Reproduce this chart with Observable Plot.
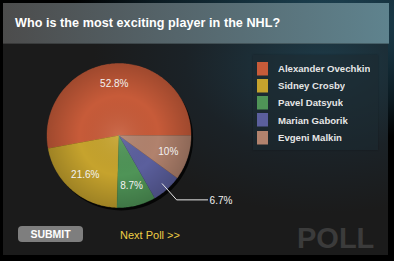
<!DOCTYPE html>
<html>
<head>
<meta charset="utf-8">
<script src="https://cdn.jsdelivr.net/npm/d3@7"></script>
<script src="https://cdn.jsdelivr.net/npm/@observablehq/plot@0.6"></script>
<style>
  html, body { margin: 0; padding: 0; background: #000; }
  #card {
    position: relative; width: 394px; height: 261px; overflow: hidden;
    background: radial-gradient(ellipse 260px 120px at 330px 20px, #1f4657 0%, #0b1a21 70%, #000 100%);
    font-family: "Liberation Sans", Arial, Helvetica, sans-serif;
  }
  #panel {
    position: absolute; left: 3px; top: 3px; width: 385px; height: 252px;
    background: radial-gradient(ellipse 230px 150px at 320px 60px, #1d3a47 0%, #1b2227 60%, #1b1b1b 100%);
  }
  #titlebar {
    position: absolute; left: 3px; top: 3px; width: 386px; height: 41px;
    background: linear-gradient(90deg, #4c4c4c 0%, #55656b 45%, #5f838e 100%);
    box-shadow: inset 0 -1px 0 rgba(0,0,0,0.25);
  }
  #title {
    position: absolute; left: 15px; top: 16px; margin: 0;
    color: #fff; font-weight: bold; font-size: 12.6px; letter-spacing: 0.05px;
  }
  #legendbox {
    position: absolute; left: 253px; top: 55px; width: 125px; height: 95px;
    background: rgba(28,42,48,0.6);
    box-shadow: 0 0 2px rgba(0,0,0,0.3);
  }
  #legend { position: absolute; left: 257px; top: 60px; }
  #legend, #legend * { font-family: "Liberation Sans", Arial, sans-serif !important; font-size: 9.6px !important; font-weight: bold !important; color: #e6e6e6 !important; }
  #legend > div { margin: 0 !important; }
  #legend .lg-swatch { display: flex; align-items: center; height: 17.2px; padding: 0 !important; margin: 0 !important; }
  #legend .lg-swatch > svg { margin-right: 10px !important; }
  #chart { position: absolute; left: 0; top: 0; }
  #submit {
    position: absolute; left: 18px; top: 226px; width: 65px; height: 16px; border-radius: 4px;
    background: #7e7e7e; color: #fff; font-weight: bold; font-size: 10.5px;
    text-align: center; line-height: 16px;
  }
  #next { position: absolute; left: 120px; top: 229px; color: #efce45; font-size: 11px; }
  #poll { position: absolute; left: 297px; top: 222px; color: #3b3b3b; font-weight: bold; font-size: 29px; }
  g[aria-label="shadow"] { filter: blur(3px); }
</style>
</head>
<body>
<div id="card">
  <div id="panel"></div>
  <div id="titlebar"></div>
  <div id="title">Who is the most exciting player in the NHL?</div>
  <div id="legendbox"></div>
  <div id="legend"></div>
  <div id="chart"></div>
  <div id="submit">SUBMIT</div>
  <div id="next">Next Poll &gt;&gt;</div>
  <div id="poll">POLL</div>
</div>
<script>
const players = ["Alexander Ovechkin", "Sidney Crosby", "Pavel Datsyuk", "Marian Gaborik", "Evgeni Malkin"];
const shares = [52.8, 21.6, 8.7, 6.7, 10];
const shareLabels = ["52.8%", "21.6%", "8.7%", "6.7%", "10%"];
const colors = ["#c75b39", "#c6a32d", "#4f9457", "#5b5f9d", "#b1826d"];
const outsideLabel = [false, false, false, true, false];

const total = d3.sum(shares);
let acc = 0;
const slices = players.map((name, i) => {
  const a0 = acc / total * 2 * Math.PI;
  acc += shares[i];
  const a1 = acc / total * 2 * Math.PI;
  return {name, a0, a1, mid: (a0 + a1) / 2, label: shareLabels[i], color: colors[i], outside: outsideLabel[i]};
});

function slicePoints(s) {
  const pts = [{x: 0, y: 0}];
  const n = Math.max(2, Math.ceil((s.a1 - s.a0) / (Math.PI / 180)));
  for (let k = 0; k <= n; k++) {
    const a = s.a0 + (s.a1 - s.a0) * k / n;
    pts.push({x: Math.cos(a), y: Math.sin(a)});
  }
  pts.push({x: 0, y: 0});
  return pts;
}

const inside = slices.filter(s => !s.outside).map(s => ({x: 0.72 * Math.cos(s.mid), y: 0.72 * Math.sin(s.mid), label: s.label}));
const leader = [];
const outside = [];
for (const s of slices.filter(s => s.outside)) {
  leader.push({x: 0.9 * Math.cos(s.mid), y: 0.9 * Math.sin(s.mid)});
  const ex = 1.2 * Math.cos(s.mid), ey = 1.2 * Math.sin(s.mid);
  leader.push({x: ex, y: ey});
  leader.push({x: ex + 0.43, y: ey});
  outside.push({x: ex + 0.43, y: ey, label: s.label});
}

const R = 72;
const cx = 118.5, cy = 135;

const defs = () => {
  const d = d3.create("svg:defs");
  const g = d.append("radialGradient").attr("id", "shade");
  g.append("stop").attr("offset", "0%").attr("stop-color", "#fff").attr("stop-opacity", 0.10);
  g.append("stop").attr("offset", "55%").attr("stop-color", "#000").attr("stop-opacity", 0.0);
  g.append("stop").attr("offset", "100%").attr("stop-color", "#000").attr("stop-opacity", 0.2);
  return d.node();
};

const chart = Plot.plot({
  width: 394, height: 261, margin: 0,
  style: {background: "transparent", overflow: "visible"},
  x: {domain: [-1, 1], range: [cx - R, cx + R], axis: null},
  y: {domain: [-1, 1], range: [cy + R, cy - R], axis: null},
  marks: [
    defs,
    Plot.dot([{x: 0.03, y: -0.04}], {x: "x", y: "y", r: R, fill: "#000", fillOpacity: 0.8, stroke: null, ariaLabel: "shadow"}),
    ...slices.map(s => Plot.line(slicePoints(s), {x: "x", y: "y", fill: s.color, stroke: s.color, strokeWidth: 0.3})),
    Plot.dot([{x: 0, y: 0}], {x: "x", y: "y", r: R, fill: "url(#shade)", stroke: null}),
    Plot.text(inside, {x: "x", y: "y", text: "label", fill: "#f2f2f2", fontSize: 10, fontFamily: "Liberation Sans, Arial, sans-serif"}),
    Plot.line(leader, {x: "x", y: "y", stroke: "#e8e8e8", strokeWidth: 1}),
    Plot.text(outside, {x: "x", y: "y", text: "label", textAnchor: "start", dx: 2, dy: 1, fill: "#f2f2f2", fontSize: 10, fontFamily: "Liberation Sans, Arial, sans-serif"})
  ]
});
document.getElementById("chart").appendChild(chart);

const legend = Plot.legend({
  color: {domain: players, range: colors},
  legend: "swatches", columns: 1, swatchWidth: 11, swatchHeight: 13.5, className: "lg"
});
document.getElementById("legend").appendChild(legend);
</script>
</body>
</html>
